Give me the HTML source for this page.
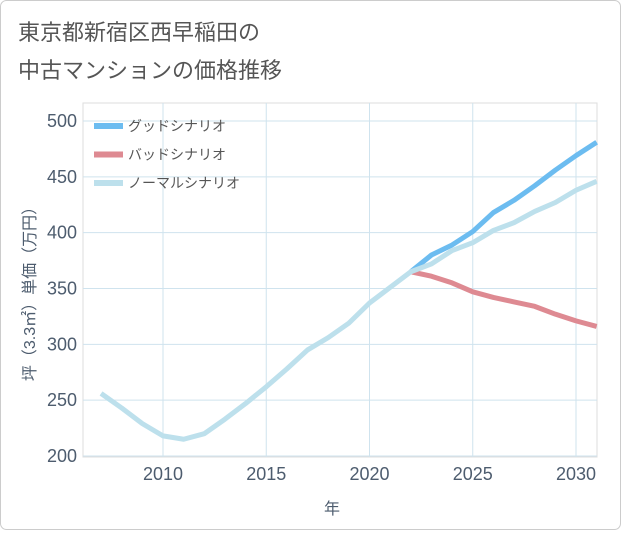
<!DOCTYPE html>
<html><head><meta charset="utf-8"><style>
body{margin:0;background:#fff}
.f{font-family:"Liberation Sans","Noto Sans CJK JP",sans-serif}
</style></head><body>
<svg width="621" height="530" class="f">
<rect x="0.5" y="0.5" width="620" height="529" rx="6" fill="#fff" stroke="#ccc"/>
<text x="18" y="40" font-size="22" fill="#555">東京都新宿区西早稲田の</text>
<text x="18" y="78" font-size="22" fill="#555">中古マンションの価格推移</text>
<g id="grid"></g>
<g id="lines"></g>
<g id="legend"></g>
<text x="332" y="514" font-size="16" fill="#4d5c6e" text-anchor="middle">年</text>
<text transform="translate(35,290) rotate(-90)" font-size="16" fill="#4d5c6e" text-anchor="middle">坪（3.3㎡）単価（万円）</text>
</svg>
<script>
const years=[2007,2008,2009,2010,2011,2012,2013,2014,2015,2016,2017,2018,2019,2020,2021,2022,2023,2024,2025,2026,2027,2028,2029,2030,2031];
const normal=[256,243,229,218,215,220,233,247,262,278,295,306,319,337,351,365,372,384,391,402,409,419,427,438,446];
const goodYears=[2022,2023,2024,2025,2026,2027,2028,2029,2030,2031];
const good=[365,380,389,401,418,429,442,456,469,481];
const bad=[365,361,355,347,342,338,334,327,321,316];
const xTicks=[2010,2015,2020,2025,2030];
const yTicks=[200,250,300,350,400,450,500];
const L=83,R=597,T=103,B=457;
const x=v=>163+(v-2010)*(576-163)/20;
const y=v=>456-(v-200)*(456-121)/300;
const ns="http://www.w3.org/2000/svg";
function mk(t,a,p){const e=document.createElementNS(ns,t);for(const k in a)e.setAttribute(k,a[k]);p.appendChild(e);return e;}
const g=document.getElementById('grid');
const fr=mk('rect',{x:L,y:T,width:R-L,height:B-T,fill:'none',stroke:'#ddd'},g);


yTicks.forEach(v=>{
 const l=mk('line',{x1:L,x2:R,y1:y(v),y2:y(v),stroke:'#cfe3ee'},g);
 
 
 const t=mk('text',{x:L-6,y:y(v)+6,'font-size':18,fill:'#4d5c6e','text-anchor':'end'},g);t.textContent=v;
 
 
});
xTicks.forEach(v=>{
 const l=mk('line',{x1:x(v),x2:x(v),y1:T,y2:B,stroke:'#cfe3ee'},g);
 
 
 const t=mk('text',{x:x(v),y:B+23,'font-size':18,fill:'#4d5c6e','text-anchor':'middle'},g);t.textContent=v;
 
 
});
const lg=document.getElementById('lines');
function line(xs,vs,c,n){const p=mk('polyline',{points:xs.map((d,i)=>x(d)+','+y(vs[i])).join(' '),fill:'none',stroke:c,'stroke-width':5,'stroke-linejoin':'round'},lg);
 
 }
line(goodYears,bad,'#de8a92','bad-scenario-line');
line(goodYears,good,'#6cbcf0','good-scenario-line');
line(years,normal,'#bde0ec','normal-scenario-line');
const leg=document.getElementById('legend');
[['グッドシナリオ','#6cbcf0'],['バッドシナリオ','#de8a92'],['ノーマルシナリオ','#bde0ec']].forEach((d,i)=>{
 const yy=126+i*28.5;
 const r=mk('rect',{x:94,y:yy-3,width:29,height:6,fill:d[1]},leg);
 
 
 const t=mk('text',{x:128,y:yy+5,'font-size':14,fill:'#555'},leg);t.textContent=d[0];
 
 
});
</script>
</body></html>
